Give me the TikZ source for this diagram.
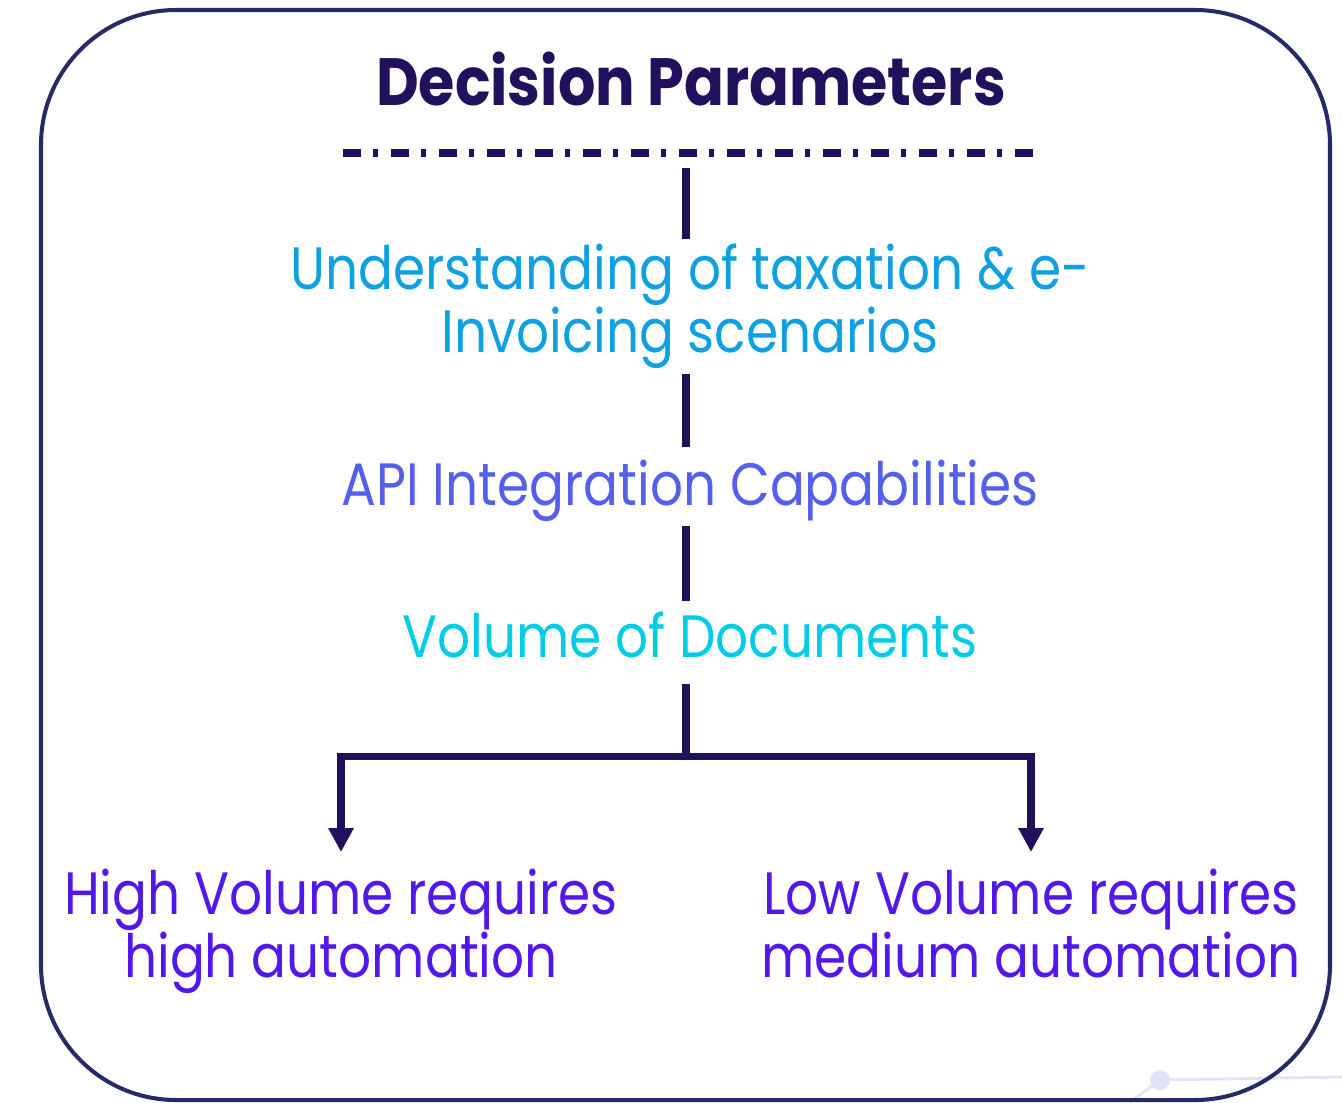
\documentclass[tikz,border=0pt]{standalone}
\usepackage{fontspec}
\setmainfont[FakeStretch=0.865]{Poppins}
\newfontfamily\headfont[FakeStretch=0.88]{Poppins}
\usetikzlibrary{arrows.meta}
\definecolor{ink}{HTML}{21105C}
\definecolor{framec}{HTML}{262A66}
\definecolor{taxc}{HTML}{0EA0E0}
\definecolor{apic}{HTML}{5560EA}
\definecolor{volc}{HTML}{00CCE6}
\definecolor{outc}{HTML}{5218EA}
\definecolor{decoc}{HTML}{E1E3F8}
\begin{document}
\begin{tikzpicture}[x=0.01cm,y=-0.01cm,
    frame/.style={draw=framec, line width=1.15pt, rounded corners=1.35cm},
    link/.style={draw=ink, line width=2pt},
    arrowlink/.style={link, -{Triangle[width=6.8pt,length=6.8pt]}, shorten >=4.5pt},
    item/.style={font=\fontsize{17}{17.9}\selectfont, align=center, inner sep=0pt, anchor=base},
    heading/.style={font=\headfont\fontsize{19}{24}\selectfont\bfseries, text=ink, inner sep=0pt, anchor=base}]
    \useasboundingbox (0,0) rectangle (1342,1102);
    % background decoration
    \draw[decoc, line width=0.8pt] (1130,1102) -- (1160,1080) -- (1342,1077);
    \fill[decoc] (1160,1080) circle (10);
    \draw[frame] (41,10) rectangle (1330,1100);

    \node[heading] (head) at (691,105) {Decision Parameters};
    \coordinate (rl) at (343,153); \coordinate (rr) at (1040,153);
    \draw[ink, line width=2.3pt, dash pattern=on 5.12pt off 3.41pt on 1.42pt off 3.7pt] (rl) -- (rr);

    % last baseline of each node
    \node[item, text=taxc] (tax) at (690,352) {Understanding of taxation \& e-\\Invoicing scenarios};
    \node[item, text=apic] (api) at (690,505) {API Integration Capabilities};
    \node[item, text=volc] (vol) at (690,657) {Volume of Documents};
    \node[item, text=outc] (high) at (341,977) {High Volume requires\\high automation};
    \node[item, text=outc] (low) at (1031,977) {Low Volume requires\\medium automation};

    \coordinate (top) at (686,168); \coordinate (fork) at (686,756);
    \draw[link, shorten >=1.1pt] (top) -- (tax.north -| top);
    \draw[link, shorten <=1.4pt, shorten >=3.4pt] (tax.south -| top) -- (api.north -| top);
    \draw[link, shorten <=1.1pt, shorten >=2.6pt] (api.south -| top) -- (vol.north -| top);
    \draw[link, shorten <=7.4pt] (vol.south -| top) -- (fork);
    \draw[arrowlink] (fork) -| (high.north);
    \draw[arrowlink] (fork) -| (low.north);
\end{tikzpicture}
\end{document}
